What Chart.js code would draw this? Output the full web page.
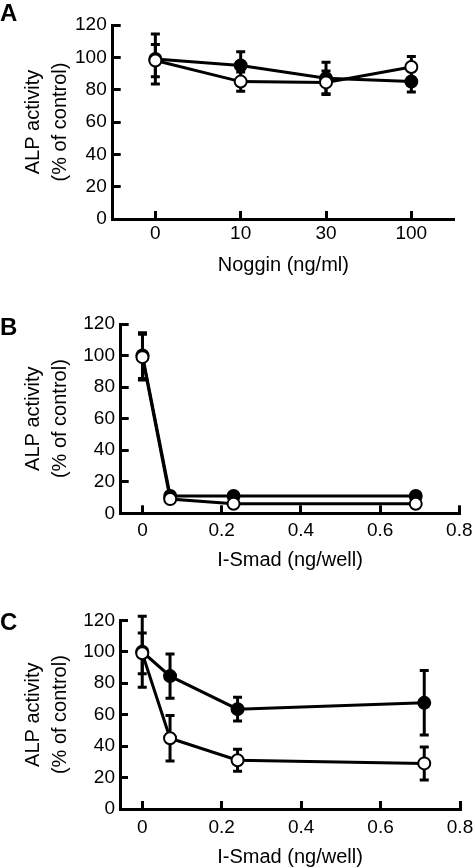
<!DOCTYPE html>
<html>
<head>
<meta charset="utf-8">
<script src="https://cdn.jsdelivr.net/npm/chart.js@4.4.1/dist/chart.umd.min.js"></script>
<style>
  body { margin: 0; background: #fff; }
  #wrap { position: relative; width: 475px; height: 868px; overflow: hidden; }
  canvas { position: absolute; left: 0; }
  .tag { position: absolute; left: 0; font: bold 24px "Liberation Sans", Arial, sans-serif; line-height: 24px; color: #000; }
</style>
</head>
<body>
<div id="wrap">
  <canvas id="chartA" width="475" height="290" style="top:0;width:475px;height:290px"></canvas>
  <canvas id="chartB" width="475" height="288" style="top:290px;width:475px;height:288px"></canvas>
  <canvas id="chartC" width="475" height="290" style="top:578px;width:475px;height:290px"></canvas>
  <div class="tag" style="top:1px">A</div>
  <div class="tag" style="top:315px">B</div>
  <div class="tag" style="top:610px">C</div>
</div>
<script>
const FONT = "'Liberation Sans', Arial, Helvetica, sans-serif";

// y axis shared by all panels
const yTicks = [0, 20, 40, 60, 80, 100, 120];

// panel A - noggin
const nogginLabels = ["0", "10", "30", "100"];
const filledA = [99, 95, 87, 85];
const filledAErr = [15.5, 8.5, 10, 6.5];
const openA = [98, 85, 84.5, 94];
const openAErr = [10, 6, 7, 6.5];

// panel B - I-Smad
const smadB = [0, 0.07, 0.23, 0.69];
const filledB = [100, 11, 11, 11];
const filledBErr = [14.5, 1, 1, 1];
const openB = [99, 9, 6, 6];
const openBErr = [14.5, 1, 1, 1];

// panel C - I-Smad
const smadC = [0, 0.07, 0.24, 0.71];
const filledC = [100, 84.5, 63.5, 67.5];
const filledCErr = [22.5, 14, 7.5, 20.5];
const openC = [99, 45, 31, 29];
const openCErr = [13, 14.5, 7, 10.5];

const smadTicks = [0, 0.2, 0.4, 0.6, 0.8];

// error bars drawn under the markers
const errorBars = {
  id: "errorBars",
  beforeDatasetsDraw(chart) {
    const ctx = chart.ctx;
    const yScale = chart.scales.y;
    ctx.save();
    ctx.strokeStyle = "#000";
    ctx.lineWidth = 3;
    ctx.lineCap = "butt";
    chart.data.datasets.forEach((ds, i) => {
      const meta = chart.getDatasetMeta(i);
      meta.data.forEach((pt, j) => {
        const err = ds.errors[j];
        if (!err) return;
        const d = ds.data[j];
        const v = typeof d === "object" ? d.y : d;
        const top = yScale.getPixelForValue(v + err);
        const bot = yScale.getPixelForValue(v - err);
        ctx.beginPath();
        ctx.moveTo(pt.x, top);
        ctx.lineTo(pt.x, bot);
        ctx.moveTo(pt.x - 4.5, top);
        ctx.lineTo(pt.x + 4.5, top);
        ctx.moveTo(pt.x - 4.5, bot);
        ctx.lineTo(pt.x + 4.5, bot);
        ctx.stroke();
      });
    });
    ctx.restore();
  }
};

function series(values, errors, filled, xs) {
  return {
    data: xs ? xs.map((x, i) => ({ x: x, y: values[i] })) : values,
    errors: errors,
    borderColor: "#000",
    borderWidth: 3,
    backgroundColor: filled ? "#000" : "#fff",
    pointBackgroundColor: filled ? "#000" : "#fff",
    pointBorderColor: "#000",
    pointBorderWidth: 2,
    pointRadius: 6,
    tension: 0,
    order: filled ? 1 : 0
  };
}

function axisGrid() {
  return {
    display: true,
    drawOnChartArea: false,
    drawTicks: true,
    tickLength: -8,   // ticks point into the plot
    tickWidth: 3,
    tickColor: "#000",
    offset: false
  };
}

function makeOptions(p) {
  const x = {
    grid: axisGrid(),
    border: { display: true, color: "#000", width: 3 },
    ticks: { color: "#000", font: { family: FONT, size: 19 }, padding: p.xTickPad, maxRotation: 0, autoSkip: false },
    title: {
      display: true, text: p.xTitle, color: "#000",
      font: { family: FONT, size: 20 },
      padding: { top: 0, bottom: p.xTitlePad }
    },
    afterFit: s => {
      s.height = p.h - p.bottom;
      s.paddingLeft = 0;
      s.paddingRight = 0;
    }
  };
  if (p.category) {
    x.type = "category";
    x.offset = true;
  } else {
    x.type = "linear";
    x.min = p.xMin;
    x.max = 0.8;
    x.afterBuildTicks = s => { s.ticks = smadTicks.map(v => ({ value: v })); };
    x.ticks.callback = v => String(v);
  }
  return {
    responsive: false,
    animation: false,
    devicePixelRatio: 1,
    layout: { padding: { top: p.top, right: 475 - p.right, left: 0, bottom: 0 } },
    plugins: { legend: { display: false }, tooltip: { enabled: false } },
    scales: {
      x: x,
      y: {
        min: 0,
        max: 120,
        afterBuildTicks: s => { s.ticks = yTicks.map(v => ({ value: v })); },
        grid: axisGrid(),
        border: { display: true, color: "#000", width: 3 },
        ticks: { color: "#000", font: { family: FONT, size: 19 }, padding: p.yTickPad },
        title: {
          display: true,
          text: ["ALP activity", "(% of control)"],
          color: "#000",
          font: { family: FONT, size: 20, lineHeight: 1.35 },
          padding: { top: 19.5, bottom: 0 }
        },
        afterFit: s => {
          s.width = p.left;
          s.paddingTop = 0;
          s.paddingBottom = 0;
        }
      }
    }
  };
}

new Chart(document.getElementById("chartA"), {
  type: "line",
  data: {
    labels: nogginLabels,
    datasets: [series(filledA, filledAErr, true), series(openA, openAErr, false)]
  },
  options: makeOptions({
    category: true, h: 290, left: 112.7, right: 454, top: 25, bottom: 219,
    xTitle: "Noggin (ng/ml)", xTickPad: 11, xTitlePad: 13, yTickPad: 14
  }),
  plugins: [errorBars]
});

new Chart(document.getElementById("chartB"), {
  type: "line",
  data: {
    datasets: [series(filledB, filledBErr, true, smadB), series(openB, openBErr, false, smadB)]
  },
  options: makeOptions({
    category: false, xMin: -0.055, h: 288, left: 120.7, right: 459.3, top: 34, bottom: 223.3,
    xTitle: "I-Smad (ng/well)", xTickPad: 14, xTitlePad: 6, yTickPad: 13.7
  }),
  plugins: [errorBars]
});

new Chart(document.getElementById("chartC"), {
  type: "line",
  data: {
    datasets: [series(filledC, filledCErr, true, smadC), series(openC, openCErr, false, smadC)]
  },
  options: makeOptions({
    category: false, xMin: -0.056, h: 290, left: 120, right: 460, top: 42.3, bottom: 231,
    xTitle: "I-Smad (ng/well)", xTickPad: 15, xTitlePad: -1, yTickPad: 13
  }),
  plugins: [errorBars]
});
</script>
</body>
</html>
